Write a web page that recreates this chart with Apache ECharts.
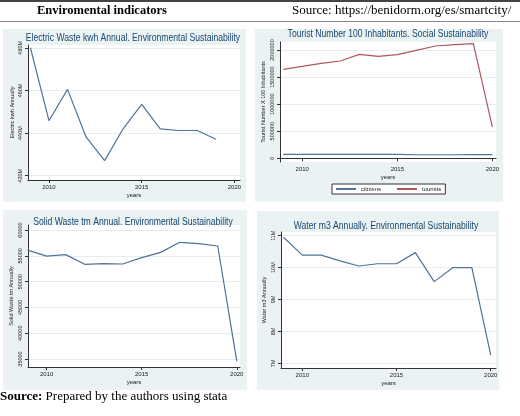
<!DOCTYPE html>
<html>
<head>
<meta charset="utf-8">
<script src="https://cdn.jsdelivr.net/npm/echarts@6/dist/echarts.min.js"></script>
<style>
  html, body { margin: 0; padding: 0; background: #fff; }
  #main { width: 520px; height: 416px; }
</style>
</head>
<body>
<div id="main"></div>
<script>
var years = [2009, 2010, 2011, 2012, 2013, 2014, 2015, 2016, 2017, 2018, 2019, 2020];
var yearTicks = [2010, 2015, 2020];

// electric waste, million kwh (no 2020 value)
var electricKwh = [480, 445.8, 460.5, 438.2, 427.1, 442, 453.5, 442, 441.2, 441.2, 437.1];
var electricTicks = [420, 440, 460, 480];

var citizens = [72000, 72000, 72000, 72000, 72000, 72000, 72000, 66000, 66000, 66000, 70000, 70000];
var tourists = [1643000, 1698000, 1754000, 1797000, 1920000, 1883000, 1914000, 1994000, 2074000, 2098000, 2117000, 578000];
var touristTicks = [0, 500000, 1000000, 1500000, 2000000];

var solidWasteTm = [56100, 54950, 55230, 53350, 53480, 53410, 54640, 55670, 57610, 57350, 56900, 34600];
var solidTicks = [35000, 40000, 45000, 50000, 55000, 60000];

// water, million m3
var waterM3 = [10.95, 10.39, 10.39, 10.21, 10.05, 10.12, 10.12, 10.47, 9.56, 10.0, 10.0, 7.26];
var waterTicks = [7, 8, 9, 10, 11];

function pairs(vals) {
  return vals.map(function (v, i) { return [years[i], v]; });
}

var navy = '#4f7399';
var maroon = '#b0565f';
var panelBg = '#eaf2f3';
var font = 'Liberation Sans';

var chartDom = document.getElementById('main');
var myChart = echarts.init(chartDom);

function plain(v) { return String(v); }

function xAx(idx, min, max) {
  return {
    type: 'value', gridIndex: idx, min: min, max: max,
    name: 'years', nameLocation: 'middle', nameGap: 12,
    nameTextStyle: { fontFamily: font, fontSize: 6, color: '#222' },
    axisLine: { lineStyle: { color: '#333', width: 1 } },
    axisTick: { length: 3, customValues: yearTicks, lineStyle: { color: '#333' } },
    axisLabel: { customValues: yearTicks, fontFamily: font, fontSize: 6, color: '#222', margin: 4, formatter: plain },
    splitLine: { show: false }
  };
}

function yAx(idx, min, max, ticks, name, gap, fmt) {
  return {
    type: 'value', gridIndex: idx, min: min, max: max,
    name: name, nameLocation: 'middle', nameGap: gap, nameRotate: 90,
    nameTextStyle: { fontFamily: font, fontSize: 5.5, color: '#222' },
    axisLine: { show: true, lineStyle: { color: '#333', width: 1 } },
    axisTick: { show: true, length: 3, customValues: ticks, lineStyle: { color: '#333' } },
    axisLabel: { customValues: ticks, rotate: 90, fontFamily: font, fontSize: 5.5, color: '#222', margin: 5, formatter: fmt || plain },
    splitLine: { show: true, lineStyle: { color: '#e6eef0', width: 1 } }
  };
}

function titleText(x, y, txt) {
  return {
    type: 'text', x: x, y: y, z: 10, scaleX: 0.86,
    style: { text: txt, fontFamily: font, fontSize: 10, fill: '#1a476f', textAlign: 'center', textVerticalAlign: 'middle' }
  };
}

var option = {
  animation: false,
  backgroundColor: '#fff',
  graphic: [
    { type: 'line', shape: { x1: 0, y1: 1, x2: 520, y2: 1 }, style: { stroke: '#444', lineWidth: 2 } },
    { type: 'line', shape: { x1: 0, y1: 21.5, x2: 520, y2: 21.5 }, style: { stroke: '#888', lineWidth: 1 } },
    { type: 'text', x: 37, y: 11, style: { text: 'Enviromental indicators', fontFamily: 'Liberation Serif', fontWeight: 'bold', fontSize: 12.5, fill: '#000', textVerticalAlign: 'middle' } },
    { type: 'text', x: 292, y: 11, style: { text: 'Source: https://benidorm.org/es/smartcity/', fontFamily: 'Liberation Serif', fontSize: 13, fill: '#000', textVerticalAlign: 'middle' } },
    { type: 'rect', z: -10, shape: { x: 3, y: 29, width: 243, height: 173 }, style: { fill: panelBg } },
    { type: 'rect', z: -10, shape: { x: 255, y: 29, width: 248, height: 173 }, style: { fill: panelBg } },
    { type: 'rect', z: -10, shape: { x: 3, y: 210, width: 244, height: 180 }, style: { fill: panelBg } },
    { type: 'rect', z: -10, shape: { x: 257, y: 211, width: 242, height: 179 }, style: { fill: panelBg } },
    titleText(133, 38, 'Electric Waste kwh Annual. Environmental Sustainability'),
    titleText(388, 34, 'Tourist Number 100 Inhabitants. Social Sustainability'),
    titleText(133, 222, 'Solid Waste tm Annual. Environmental Sustainability'),
    titleText(386, 226, 'Water m3 Annually. Environmental Sustainability'),
    {
      type: 'text', x: 0, y: 397,
      style: {
        text: '{b|Source:} Prepared by the authors using stata',
        fontFamily: 'Liberation Serif', fontSize: 13, fill: '#000', textVerticalAlign: 'middle',
        rich: { b: { fontFamily: 'Liberation Serif', fontSize: 13, fontWeight: 'bold' } }
      }
    }
  ],
  legend: {
    data: ['citizens', 'tourists'],
    left: 332, top: 184, orient: 'horizontal',
    itemWidth: 20, itemHeight: 2, icon: 'rect', itemGap: 16,
    padding: [2, 4], borderColor: '#333', borderWidth: 1, backgroundColor: '#fff',
    textStyle: { fontFamily: font, fontSize: 6, color: '#222' }
  },
  grid: [
    { left: 28, top: 45, width: 212, height: 135, show: true, backgroundColor: '#fff', borderWidth: 0 },
    { left: 280, top: 42, width: 216, height: 120, show: true, backgroundColor: '#fff', borderWidth: 0 },
    { left: 28, top: 225, width: 212, height: 142, show: true, backgroundColor: '#fff', borderWidth: 0 },
    { left: 281, top: 232, width: 215, height: 136, show: true, backgroundColor: '#fff', borderWidth: 0 }
  ],
  xAxis: [
    xAx(0, 2008.87, 2020.3),
    xAx(1, 2008.83, 2020.19),
    xAx(2, 2009.02, 2020.17),
    xAx(3, 2008.87, 2020.28)
  ],
  yAxis: [
    yAx(0, 418.0, 481.3, electricTicks, 'Electric kwh Annually', 13, function (v) { return v + 'M'; }),
    yAx(1, -68000, 2148000, touristTicks, 'Tourist Number X 100 Inhabitants', 14, null),
    yAx(2, 33450, 60970, solidTicks, 'Solid Waste tm Annually', 14, null),
    yAx(3, 6.853, 11.116, waterTicks, 'Water m3 Annually', 14, function (v) { return v + 'M'; })
  ],
  series: [
    { name: 'electric', type: 'line', xAxisIndex: 0, yAxisIndex: 0, data: pairs(electricKwh), symbol: 'none', lineStyle: { color: navy, width: 1.2 } },
    { name: 'citizens', type: 'line', xAxisIndex: 1, yAxisIndex: 1, data: pairs(citizens), symbol: 'none', itemStyle: { color: navy }, lineStyle: { color: navy, width: 1.2 } },
    { name: 'tourists', type: 'line', xAxisIndex: 1, yAxisIndex: 1, data: pairs(tourists), symbol: 'none', itemStyle: { color: maroon }, lineStyle: { color: maroon, width: 1.2 } },
    { name: 'solid', type: 'line', xAxisIndex: 2, yAxisIndex: 2, data: pairs(solidWasteTm), symbol: 'none', lineStyle: { color: navy, width: 1.2 } },
    { name: 'water', type: 'line', xAxisIndex: 3, yAxisIndex: 3, data: pairs(waterM3), symbol: 'none', lineStyle: { color: navy, width: 1.2 } }
  ]
};

myChart.setOption(option);
</script>
</body>
</html>
